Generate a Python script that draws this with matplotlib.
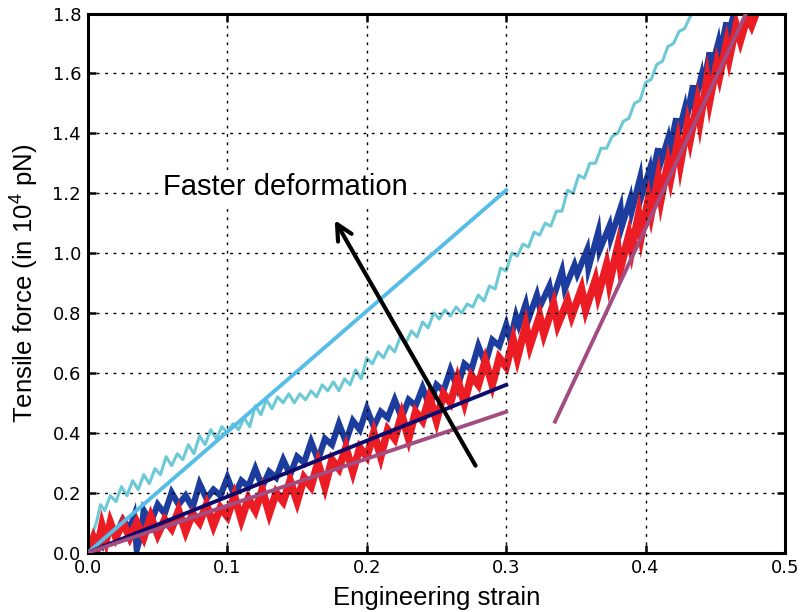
import numpy as np
import matplotlib
matplotlib.use("Agg")
import matplotlib.pyplot as plt

plt.rcParams['mathtext.fontset'] = 'custom'
plt.rcParams['mathtext.rm'] = 'Liberation Sans'
plt.rcParams['mathtext.it'] = 'Liberation Sans'

# slow pulling (blue), noisy
blue_x = [0.000, 0.005, 0.010, 0.015, 0.020, 0.025, 0.030, 0.033, 0.035, 0.038,
          0.040, 0.045, 0.050, 0.055, 0.060, 0.065, 0.070, 0.075, 0.080, 0.085,
          0.090, 0.095, 0.100, 0.105, 0.110, 0.115, 0.120, 0.125, 0.130, 0.135,
          0.140, 0.145, 0.150, 0.155, 0.160, 0.165, 0.170, 0.175, 0.180, 0.185,
          0.190, 0.195, 0.200, 0.205, 0.210, 0.215, 0.220, 0.225, 0.230, 0.235,
          0.240, 0.245, 0.250, 0.255, 0.260, 0.265, 0.270, 0.275, 0.280, 0.285,
          0.290, 0.295, 0.300, 0.303, 0.307, 0.309, 0.314, 0.316, 0.322, 0.324,
          0.331, 0.333, 0.340, 0.342, 0.349, 0.351, 0.358, 0.359, 0.366, 0.367,
          0.374, 0.375, 0.382, 0.383, 0.389, 0.390, 0.396, 0.397, 0.403, 0.404,
          0.409, 0.410, 0.416, 0.417, 0.422, 0.423, 0.428, 0.429, 0.434, 0.435,
          0.440, 0.441, 0.446, 0.447, 0.452, 0.453, 0.458, 0.459, 0.464]
blue_y = [0.00, 0.04, 0.02, 0.08, 0.06, 0.11, 0.08, 0.12, 0.01, 0.06,
          0.14, 0.10, 0.16, 0.13, 0.20, 0.16, 0.19, 0.15, 0.23, 0.18,
          0.21, 0.19, 0.25, 0.19, 0.24, 0.22, 0.28, 0.22, 0.27, 0.25,
          0.31, 0.26, 0.32, 0.30, 0.37, 0.31, 0.38, 0.36, 0.43, 0.37,
          0.44, 0.41, 0.48, 0.42, 0.47, 0.45, 0.51, 0.45, 0.51, 0.49,
          0.55, 0.49, 0.56, 0.54, 0.61, 0.55, 0.63, 0.61, 0.69, 0.63,
          0.71, 0.69, 0.76, 0.71, 0.79, 0.76, 0.83, 0.78, 0.86, 0.82,
          0.89, 0.84, 0.94, 0.88, 0.96, 0.93, 1.01, 0.95, 1.07, 1.01,
          1.09, 1.05, 1.15, 1.09, 1.18, 1.14, 1.25, 1.19, 1.28, 1.24,
          1.35, 1.29, 1.38, 1.34, 1.45, 1.39, 1.48, 1.44, 1.56, 1.50,
          1.59, 1.55, 1.67, 1.61, 1.70, 1.66, 1.77, 1.72, 1.81]

# red, noisy
red_x = [0.000, 0.004, 0.007, 0.010, 0.013, 0.016, 0.020, 0.025, 0.030, 0.035,
         0.040, 0.045, 0.050, 0.055, 0.060, 0.065, 0.070, 0.075, 0.080, 0.085,
         0.090, 0.095, 0.100, 0.105, 0.110, 0.115, 0.120, 0.125, 0.130, 0.135,
         0.140, 0.145, 0.150, 0.155, 0.160, 0.165, 0.170, 0.175, 0.180, 0.185,
         0.190, 0.195, 0.200, 0.205, 0.210, 0.215, 0.220, 0.225, 0.230, 0.235,
         0.240, 0.245, 0.250, 0.255, 0.260, 0.265, 0.270, 0.275, 0.280, 0.285,
         0.290, 0.295, 0.300, 0.305, 0.308, 0.314, 0.317, 0.324, 0.327, 0.334,
         0.337, 0.344, 0.347, 0.354, 0.357, 0.364, 0.366, 0.372, 0.374, 0.380,
         0.382, 0.388, 0.390, 0.395, 0.397, 0.402, 0.404, 0.409, 0.411, 0.416,
         0.418, 0.423, 0.425, 0.430, 0.432, 0.437, 0.439, 0.444, 0.446, 0.451,
         0.453, 0.458, 0.460, 0.465, 0.468, 0.473, 0.476, 0.480]
red_y = [0.00, 0.05, 0.02, 0.09, 0.04, 0.10, 0.05, 0.10, 0.05, 0.10,
         0.05, 0.12, 0.06, 0.11, 0.08, 0.14, 0.07, 0.13, 0.10, 0.16,
         0.09, 0.15, 0.12, 0.19, 0.11, 0.18, 0.14, 0.21, 0.13, 0.20,
         0.17, 0.24, 0.17, 0.25, 0.22, 0.30, 0.22, 0.31, 0.28, 0.35,
         0.27, 0.35, 0.32, 0.40, 0.32, 0.41, 0.38, 0.46, 0.38, 0.47,
         0.44, 0.52, 0.44, 0.53, 0.50, 0.58, 0.50, 0.59, 0.56, 0.64,
         0.56, 0.65, 0.62, 0.71, 0.65, 0.76, 0.69, 0.79, 0.73, 0.83,
         0.76, 0.84, 0.79, 0.88, 0.81, 0.91, 0.86, 0.96, 0.90, 1.02,
         0.95, 1.06, 1.01, 1.13, 1.06, 1.18, 1.13, 1.25, 1.18, 1.30,
         1.25, 1.37, 1.30, 1.43, 1.38, 1.50, 1.44, 1.58, 1.51, 1.63,
         1.59, 1.70, 1.65, 1.76, 1.71, 1.79, 1.76, 1.81]

# fastest pulling (cyan), noisy
cyan_x = [0.000, 0.003, 0.006, 0.009, 0.012, 0.016, 0.020, 0.024, 0.028, 0.032,
          0.036, 0.040, 0.044, 0.048, 0.052, 0.056, 0.060, 0.064, 0.068, 0.072,
          0.076, 0.080, 0.084, 0.088, 0.092, 0.096, 0.100, 0.104, 0.108, 0.112,
          0.116, 0.120, 0.124, 0.128, 0.132, 0.136, 0.140, 0.144, 0.148, 0.152,
          0.156, 0.160, 0.164, 0.168, 0.172, 0.176, 0.180, 0.184, 0.188, 0.192,
          0.196, 0.200, 0.204, 0.208, 0.212, 0.216, 0.220, 0.224, 0.228, 0.232,
          0.236, 0.240, 0.244, 0.248, 0.252, 0.256, 0.260, 0.264, 0.268, 0.272,
          0.276, 0.280, 0.284, 0.288, 0.292, 0.296, 0.300, 0.304, 0.308, 0.312,
          0.316, 0.320, 0.324, 0.328, 0.332, 0.336, 0.340, 0.344, 0.348, 0.352,
          0.356, 0.360, 0.364, 0.368, 0.372, 0.376, 0.380, 0.384, 0.388, 0.392,
          0.396, 0.400, 0.404, 0.408, 0.412, 0.416, 0.420, 0.424, 0.428, 0.432,
          0.436]
cyan_y = [0.00, 0.06, 0.10, 0.16, 0.14, 0.19, 0.17, 0.22, 0.19, 0.24,
          0.21, 0.26, 0.23, 0.28, 0.26, 0.32, 0.29, 0.33, 0.31, 0.36,
          0.33, 0.39, 0.36, 0.41, 0.38, 0.42, 0.40, 0.43, 0.41, 0.45,
          0.42, 0.49, 0.46, 0.51, 0.48, 0.52, 0.50, 0.53, 0.50, 0.53,
          0.51, 0.54, 0.52, 0.56, 0.54, 0.57, 0.54, 0.58, 0.56, 0.61,
          0.58, 0.65, 0.63, 0.67, 0.65, 0.69, 0.67, 0.72, 0.70, 0.74,
          0.72, 0.77, 0.75, 0.80, 0.78, 0.81, 0.79, 0.82, 0.80, 0.83,
          0.82, 0.86, 0.84, 0.89, 0.88, 0.95, 0.94, 1.00, 0.99, 1.03,
          1.02, 1.07, 1.06, 1.10, 1.09, 1.14, 1.14, 1.21, 1.20, 1.26,
          1.25, 1.30, 1.30, 1.35, 1.35, 1.39, 1.40, 1.44, 1.45, 1.50,
          1.51, 1.57, 1.58, 1.63, 1.64, 1.69, 1.70, 1.74, 1.75, 1.79,
          1.81]

# linear fits (start and end points)
fit_cyan_x, fit_cyan_y = [0.0, 0.3], [0.0, 1.21]
fit_navy_x, fit_navy_y = [0.0, 0.3], [0.0, 0.56]
fit_mauve1_x, fit_mauve1_y = [0.0, 0.3], [0.0, 0.47]
fit_mauve2_x, fit_mauve2_y = [0.335, 0.472], [0.437, 1.80]

fig = plt.figure(figsize=(8.03, 6.12), dpi=100)
ax = fig.add_axes([0.1096, 0.0972, 0.868, 0.8807])

ax.plot(cyan_x, cyan_y, color='#6cc9d5', lw=2.2, zorder=2)
ax.plot(blue_x, blue_y, color='#1d3d9e', lw=4.5, solid_joinstyle='miter', zorder=2)
ax.plot(red_x, red_y, color='#ec1c24', lw=5.5, solid_joinstyle='miter', zorder=2)

ax.plot(fit_cyan_x, fit_cyan_y, color='#56bde6', lw=2.8, zorder=3)
ax.plot(fit_navy_x, fit_navy_y, color='#0b0c6b', lw=2.8, zorder=3)
ax.plot(fit_mauve1_x, fit_mauve1_y, color='#a24c82', lw=2.8, zorder=3)
ax.plot(fit_mauve2_x, fit_mauve2_y, color='#a24c82', lw=2.8, zorder=3)

ax.annotate('', xy=(0.177, 1.11), xytext=(0.278, 0.29),
            arrowprops=dict(arrowstyle='->', color='black', lw=3,
                            mutation_scale=28, shrinkA=0, shrinkB=0),
            zorder=5)
ax.text(0.1415, 1.22, 'Faster deformation', fontsize=21, family='Liberation Sans',
        ha='center', va='center', zorder=6,
        bbox=dict(facecolor='white', edgecolor='none', pad=2))

ax.set_xlim(0, 0.5)
ax.set_ylim(0, 1.8)
ax.set_xticks([0.0, 0.1, 0.2, 0.3, 0.4, 0.5])
ax.set_yticks(np.round(np.arange(0, 1.81, 0.2), 1))
ax.set_xticklabels(['0.0', '0.1', '0.2', '0.3', '0.4', '0.5'])
ax.set_yticklabels(['0.0', '0.2', '0.4', '0.6', '0.8', '1.0', '1.2', '1.4', '1.6', '1.8'])
ax.grid(True, color='black', linestyle=(0, (2, 4)), lw=1.0, zorder=4)
ax.set_axisbelow(False)
ax.tick_params(direction='in', length=6, width=1.8, labelsize=13,
               top=True, right=True, pad=5)
for s in ax.spines.values():
    s.set_linewidth(2.2)

ax.set_xlabel('Engineering strain', fontsize=18.5, family='Liberation Sans', labelpad=6)
ax.set_ylabel('Tensile force (in 10$^4$ pN)', fontsize=18.5, family='Liberation Sans', labelpad=8)

fig.savefig('out.png', dpi=100)
